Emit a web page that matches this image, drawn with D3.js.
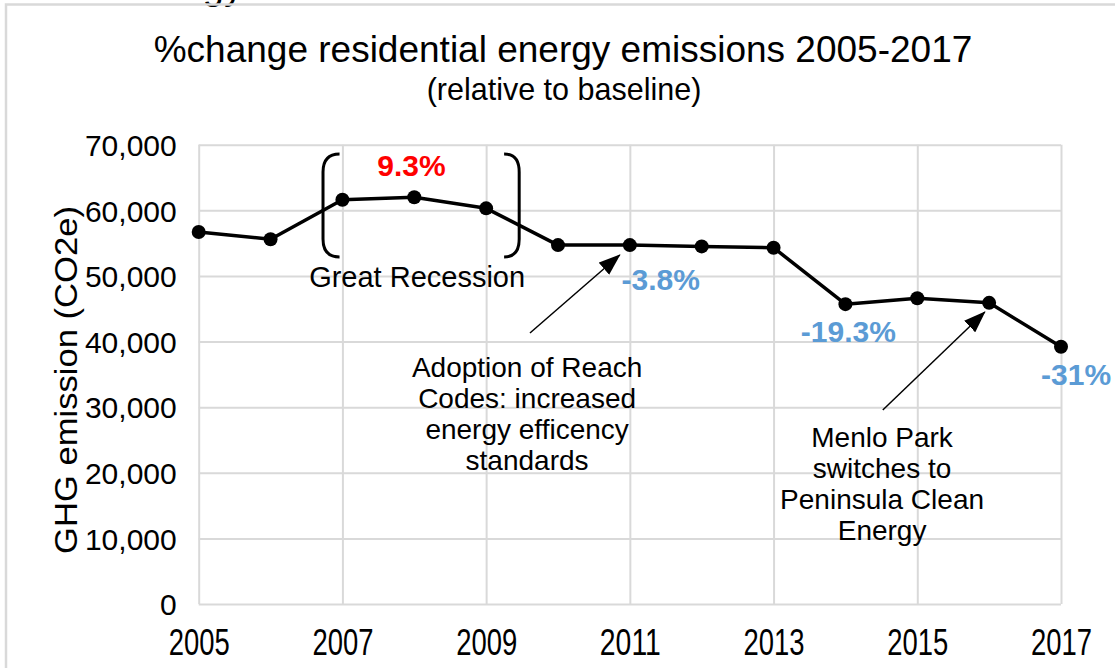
<!DOCTYPE html>
<html>
<head>
<meta charset="utf-8">
<script src="https://cdn.jsdelivr.net/npm/d3@7"></script>
<style>
  body { margin: 0; background: #fff; }
  svg text { font-family: "Liberation Sans", Arial, sans-serif; fill: #000; }
</style>
</head>
<body>
<div class="chart"></div>
<script>
// Data
const years = [2005, 2006, 2007, 2008, 2009, 2010, 2011, 2012, 2013, 2014, 2015, 2016, 2017];
const emissions = [56700, 55600, 61600, 62000, 60300, 54700, 54700, 54500, 54300, 45700, 46600, 45900, 39200];
const xTicks = [2005, 2007, 2009, 2011, 2013, 2015, 2017];
const yTicks = [0, 10000, 20000, 30000, 40000, 50000, 60000, 70000];

// Annotations, placed in data coordinates
const pctLabels = [
  { text: "9.3%", year: 2007.96, value: 65230, color: "#ff0000" },
  { text: "-3.8%", year: 2011.43, value: 47860, color: "#5b9bd5" },
  { text: "-19.3%", year: 2014.04, value: 39930, color: "#5b9bd5" },
  { text: "-31%", year: 2017.21, value: 33380, color: "#5b9bd5" },
];
const notes = [
  { lines: ["Great Recession"], year: 2008.04, value: 48320, size: 29 },
  { lines: ["Adoption of Reach", "Codes: increased", "energy efficency", "standards"], year: 2009.57, value: 34600, size: 28 },
  { lines: ["Menlo Park", "switches to", "Peninsula Clean", "Energy"], year: 2014.51, value: 23930, size: 28 },
];
const arrows = [
  { from: [2009.61, 41300], to: [2010.86, 53190] },
  { from: [2014.52, 29570], to: [2015.94, 44500] },
];
const brackets = [
  { end: 2006.96, side: 2006.73 },
  { end: 2009.25, side: 2009.46 },
];
const bracketTop = 68590;
const bracketBottom = 52890;

const width = 1115;
const height = 668;
const plot = { left: 198.7, right: 1061, top: 144.7, bottom: 604 };

const data = years.map((year, i) => ({ year: year, value: emissions[i] }));

const x = d3.scaleLinear().domain([2005, 2017]).range([plot.left, plot.right]);
const y = d3.scaleLinear().domain([0, 70000]).range([plot.bottom, plot.top]);

const svg = d3
  .select(".chart")
  .append("svg")
  .attr("width", width)
  .attr("height", height);

// Frame and the cut-off text above it
svg
  .append("text")
  .attr("x", 243)
  .attr("y", -1)
  .attr("text-anchor", "end")
  .attr("font-size", 38)
  .text("Energy");

svg
  .append("rect")
  .attr("x", 6)
  .attr("y", 4.5)
  .attr("width", 1200)
  .attr("height", 800)
  .attr("fill", "none")
  .attr("stroke", "#d9d9d9")
  .attr("stroke-width", 2.5);

// Titles
svg
  .append("text")
  .attr("x", 563)
  .attr("y", 62)
  .attr("text-anchor", "middle")
  .attr("font-size", 37)
  .text("%change residential energy emissions 2005-2017");

svg
  .append("text")
  .attr("x", 564)
  .attr("y", 100)
  .attr("text-anchor", "middle")
  .attr("font-size", 30.5)
  .text("(relative to baseline)");

// Y axis with horizontal gridlines
const yAxis = svg
  .append("g")
  .attr("transform", `translate(${plot.left},0)`)
  .call(
    d3
      .axisLeft(y)
      .tickValues(yTicks)
      .tickSize(-(plot.right - plot.left))
      .tickPadding(22)
      .tickFormat(d3.format(","))
  );
yAxis.select(".domain").remove();
yAxis.selectAll(".tick line").attr("stroke", "#d9d9d9").attr("stroke-width", 2);
yAxis
  .selectAll(".tick text")
  .attr("font-size", 30)
  .attr("dy", "0.36em")
  .style("font-family", '"Liberation Sans", Arial, sans-serif')
  .attr("fill", "#000");

// X axis with vertical gridlines
const xAxis = svg
  .append("g")
  .attr("transform", `translate(0,${plot.bottom})`)
  .call(
    d3
      .axisBottom(x)
      .tickValues(xTicks)
      .tickSize(-(plot.bottom - plot.top))
      .tickFormat(d3.format("d"))
  );
xAxis.select(".domain").remove();
xAxis.selectAll(".tick line").attr("stroke", "#d9d9d9").attr("stroke-width", 2);
xAxis
  .selectAll(".tick text")
  .attr("y", 51)
  .attr("dy", 0)
  .attr("font-size", 37)
  .attr("textLength", 61)
  .attr("lengthAdjust", "spacingAndGlyphs")
  .style("font-family", '"Liberation Sans", Arial, sans-serif')
  .attr("fill", "#000");

// Y axis title
svg
  .append("text")
  .attr("transform", "translate(77,380) rotate(-90)")
  .attr("text-anchor", "middle")
  .attr("font-size", 31)
  .attr("textLength", 348)
  .attr("lengthAdjust", "spacingAndGlyphs")
  .text("GHG emission (CO2e)");

// Line and markers
const line = d3
  .line()
  .x((d) => x(d.year))
  .y((d) => y(d.value));

svg
  .append("path")
  .datum(data)
  .attr("d", line)
  .attr("fill", "none")
  .attr("stroke", "#000")
  .attr("stroke-width", 3.5)
  .attr("stroke-linejoin", "round");

svg
  .selectAll(".point")
  .data(data)
  .enter()
  .append("circle")
  .attr("class", "point")
  .attr("cx", (d) => x(d.year))
  .attr("cy", (d) => y(d.value))
  .attr("r", 7)
  .attr("fill", "#000");

// Brackets around the recession years
brackets.forEach((b) => {
  const p = d3.path();
  const yt = y(bracketTop);
  const yb = y(bracketBottom);
  p.moveTo(x(b.end), yt);
  p.quadraticCurveTo(x(b.side), yt, x(b.side), yt + 18);
  p.lineTo(x(b.side), yb - 18);
  p.quadraticCurveTo(x(b.side), yb, x(b.end), yb);
  svg
    .append("path")
    .attr("d", p.toString())
    .attr("fill", "none")
    .attr("stroke", "#000")
    .attr("stroke-width", 3);
});

// Arrows
svg
  .append("defs")
  .append("marker")
  .attr("id", "head")
  .attr("markerUnits", "userSpaceOnUse")
  .attr("markerWidth", 22)
  .attr("markerHeight", 16)
  .attr("refX", 21)
  .attr("refY", 8)
  .attr("orient", "auto")
  .append("path")
  .attr("d", "M0,0 L22,8 L0,16 Z")
  .attr("fill", "#000");

svg
  .selectAll(".arrow")
  .data(arrows)
  .enter()
  .append("line")
  .attr("class", "arrow")
  .attr("x1", (d) => x(d.from[0]))
  .attr("y1", (d) => y(d.from[1]))
  .attr("x2", (d) => x(d.to[0]))
  .attr("y2", (d) => y(d.to[1]))
  .attr("stroke", "#000")
  .attr("stroke-width", 1.5)
  .attr("marker-end", "url(#head)");

// Percentage labels
svg
  .selectAll(".pct")
  .data(pctLabels)
  .enter()
  .append("text")
  .attr("class", "pct")
  .attr("x", (d) => x(d.year))
  .attr("y", (d) => y(d.value))
  .attr("text-anchor", "middle")
  .attr("font-size", 30)
  .attr("font-weight", "bold")
  .style("fill", (d) => d.color)
  .text((d) => d.text);

// Text notes
notes.forEach((n) => {
  const t = svg
    .append("text")
    .attr("text-anchor", "middle")
    .attr("font-size", n.size);
  n.lines.forEach((l, i) => {
    t.append("tspan")
      .attr("x", x(n.year))
      .attr("y", y(n.value) + i * 31)
      .text(l);
  });
});
</script>
</body>
</html>
